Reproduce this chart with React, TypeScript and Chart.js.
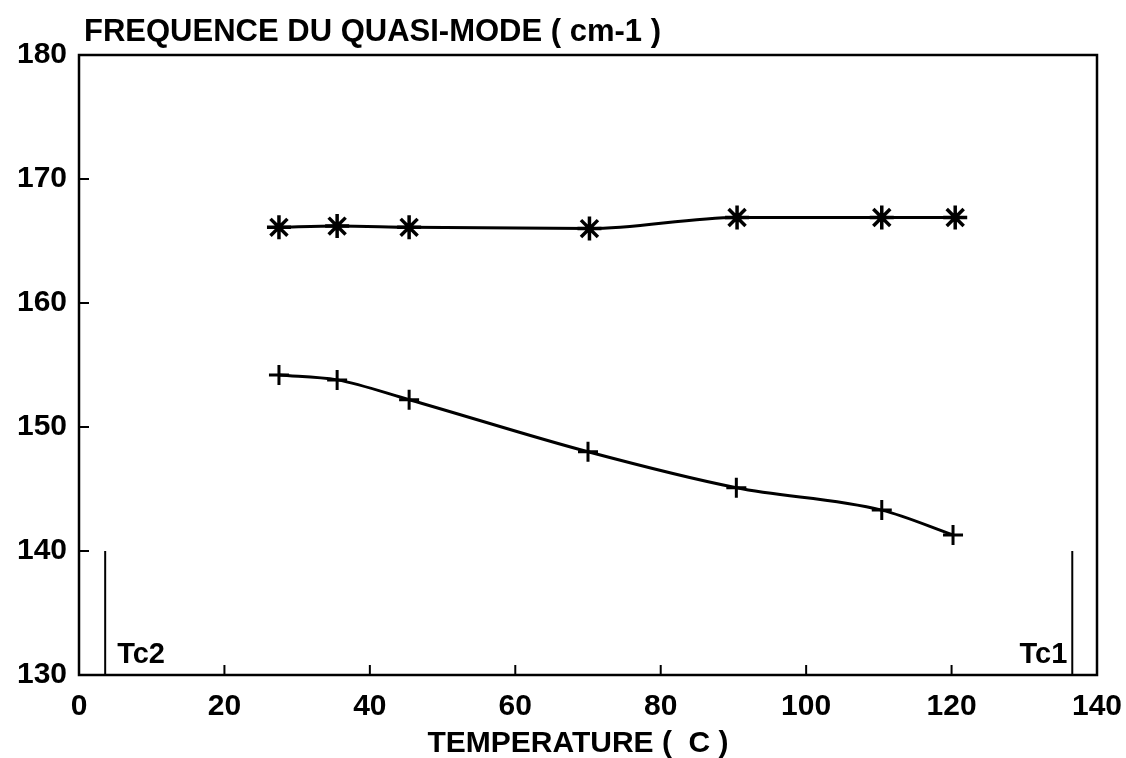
import React, { useEffect, useRef } from "react";
import { Chart, registerables } from "chart.js";

Chart.register(...registerables);

const starTemps = [27.5, 35.5, 45.4, 70.2, 90.5, 110.4, 120.5];
const starFreqs = [166.1, 166.2, 166.1, 166.0, 166.9, 166.9, 166.9];
const crossTemps = [27.5, 35.5, 45.4, 70.0, 90.4, 110.4, 120.2];
const crossFreqs = [154.2, 153.8, 152.2, 148.0, 145.1, 143.3, 141.3];
const tcTemps = [3.6, 136.6];
const tcFreqRange = [130, 140];
const tcLabels = ["Tc2", "Tc1"];
const xTicks = [0, 20, 40, 60, 80, 100, 120, 140];
const yTicks = [130, 140, 150, 160, 170, 180];
const titleText = "FREQUENCE DU QUASI-MODE ( cm-1 )";
const xTitleText = "TEMPERATURE (  C )";

const FONT = "'Liberation Sans', Arial, sans-serif";

const decorPlugin = {
  id: "decor",
  beforeDraw(chart: any) {
    const { ctx } = chart;
    ctx.save();
    ctx.fillStyle = "#ffffff";
    ctx.fillRect(0, 0, chart.width, chart.height);
    ctx.restore();
  },
  afterDraw(chart: any) {
    const { ctx, chartArea } = chart;
    const xs = chart.scales.x;
    const ys = chart.scales.y;
    ctx.save();
    ctx.strokeStyle = "#000";
    ctx.lineWidth = 2.5;
    ctx.strokeRect(chartArea.left, chartArea.top, chartArea.right - chartArea.left, chartArea.bottom - chartArea.top);
    ctx.lineWidth = 2;
    yTicks.forEach((v) => {
      const py = ys.getPixelForValue(v);
      ctx.beginPath();
      ctx.moveTo(chartArea.left, py);
      ctx.lineTo(chartArea.left + 10, py);
      ctx.stroke();
    });
    xTicks.forEach((v) => {
      const px = xs.getPixelForValue(v);
      ctx.beginPath();
      ctx.moveTo(px, chartArea.bottom);
      ctx.lineTo(px, chartArea.bottom - 10);
      ctx.stroke();
    });
    ctx.fillStyle = "#000";
    ctx.font = `bold 31px ${FONT}`;
    ctx.textBaseline = "alphabetic";
    ctx.textAlign = "left";
    ctx.fillText(titleText, 84, 41);
    ctx.font = `bold 30px ${FONT}`;
    ctx.textAlign = "center";
    ctx.fillText(xTitleText, (chartArea.left + chartArea.right) / 2 - 10, 752);
    ctx.font = `bold 29px ${FONT}`;
    const ly = ys.getPixelForValue(tcFreqRange[0]) - 12;
    ctx.textAlign = "left";
    ctx.fillText(tcLabels[0], xs.getPixelForValue(tcTemps[0]) + 12, ly);
    ctx.textAlign = "right";
    ctx.fillText(tcLabels[1], xs.getPixelForValue(tcTemps[1]) - 5, ly);
    ctx.restore();
  },
};

export default function App() {
  const ref = useRef<HTMLCanvasElement | null>(null);
  useEffect(() => {
    if (!ref.current) return;
    const chart = new Chart(ref.current, {
      type: "scatter",
      data: {
        datasets: [
          {
            data: starTemps.map((x, i) => ({ x, y: starFreqs[i] })),
            showLine: true,
            borderColor: "#000",
            borderWidth: 3,
            cubicInterpolationMode: "monotone",
            pointStyle: "star",
            pointRadius: 12,
            pointBorderWidth: 3.5,
            pointBorderColor: "#000",
            pointBackgroundColor: "#000",
          },
          {
            data: crossTemps.map((x, i) => ({ x, y: crossFreqs[i] })),
            showLine: true,
            borderColor: "#000",
            borderWidth: 3,
            cubicInterpolationMode: "monotone",
            pointStyle: "cross",
            pointRadius: 10,
            pointBorderWidth: 3,
            pointBorderColor: "#000",
            pointBackgroundColor: "#000",
          },
          ...tcTemps.map((t) => ({
            data: tcFreqRange.map((y) => ({ x: t, y })),
            showLine: true,
            borderColor: "#000",
            borderWidth: 2,
            pointRadius: 0,
          })),
        ],
      },
      options: {
        animation: false,
        responsive: false,
        layout: { padding: { left: 0, top: 55, right: 29, bottom: 0 } },
        plugins: { legend: { display: false }, tooltip: { enabled: false }, title: { display: false } },
        scales: {
          x: {
            type: "linear",
            min: 0,
            max: 140,
            afterFit: (s: any) => { s.height = 83; s.paddingLeft = 0; s.paddingRight = 0; },
            afterBuildTicks: (s: any) => { s.ticks = xTicks.map((v) => ({ value: v })); },
            grid: { display: false, drawTicks: false },
            border: { display: false },
            ticks: { color: "#000", font: { family: FONT, size: 30, weight: "bold" }, padding: 14, maxRotation: 0 },
          },
          y: {
            type: "linear",
            min: 130,
            max: 180,
            afterFit: (s: any) => { s.width = 79; s.paddingTop = 0; s.paddingBottom = 0; },
            afterBuildTicks: (s: any) => { s.ticks = yTicks.map((v) => ({ value: v })); },
            grid: { display: false, drawTicks: false },
            border: { display: false },
            ticks: { color: "#000", font: { family: FONT, size: 30, weight: "bold" }, padding: 12 },
          },
        },
      },
      plugins: [decorPlugin],
    } as any);
    return () => chart.destroy();
  }, []);
  return (
    <div style={{ position: "fixed", left: 0, top: 0, width: 1126, height: 758, background: "#fff" }}>
      <canvas ref={ref} width={1126} height={758} />
    </div>
  );
}
